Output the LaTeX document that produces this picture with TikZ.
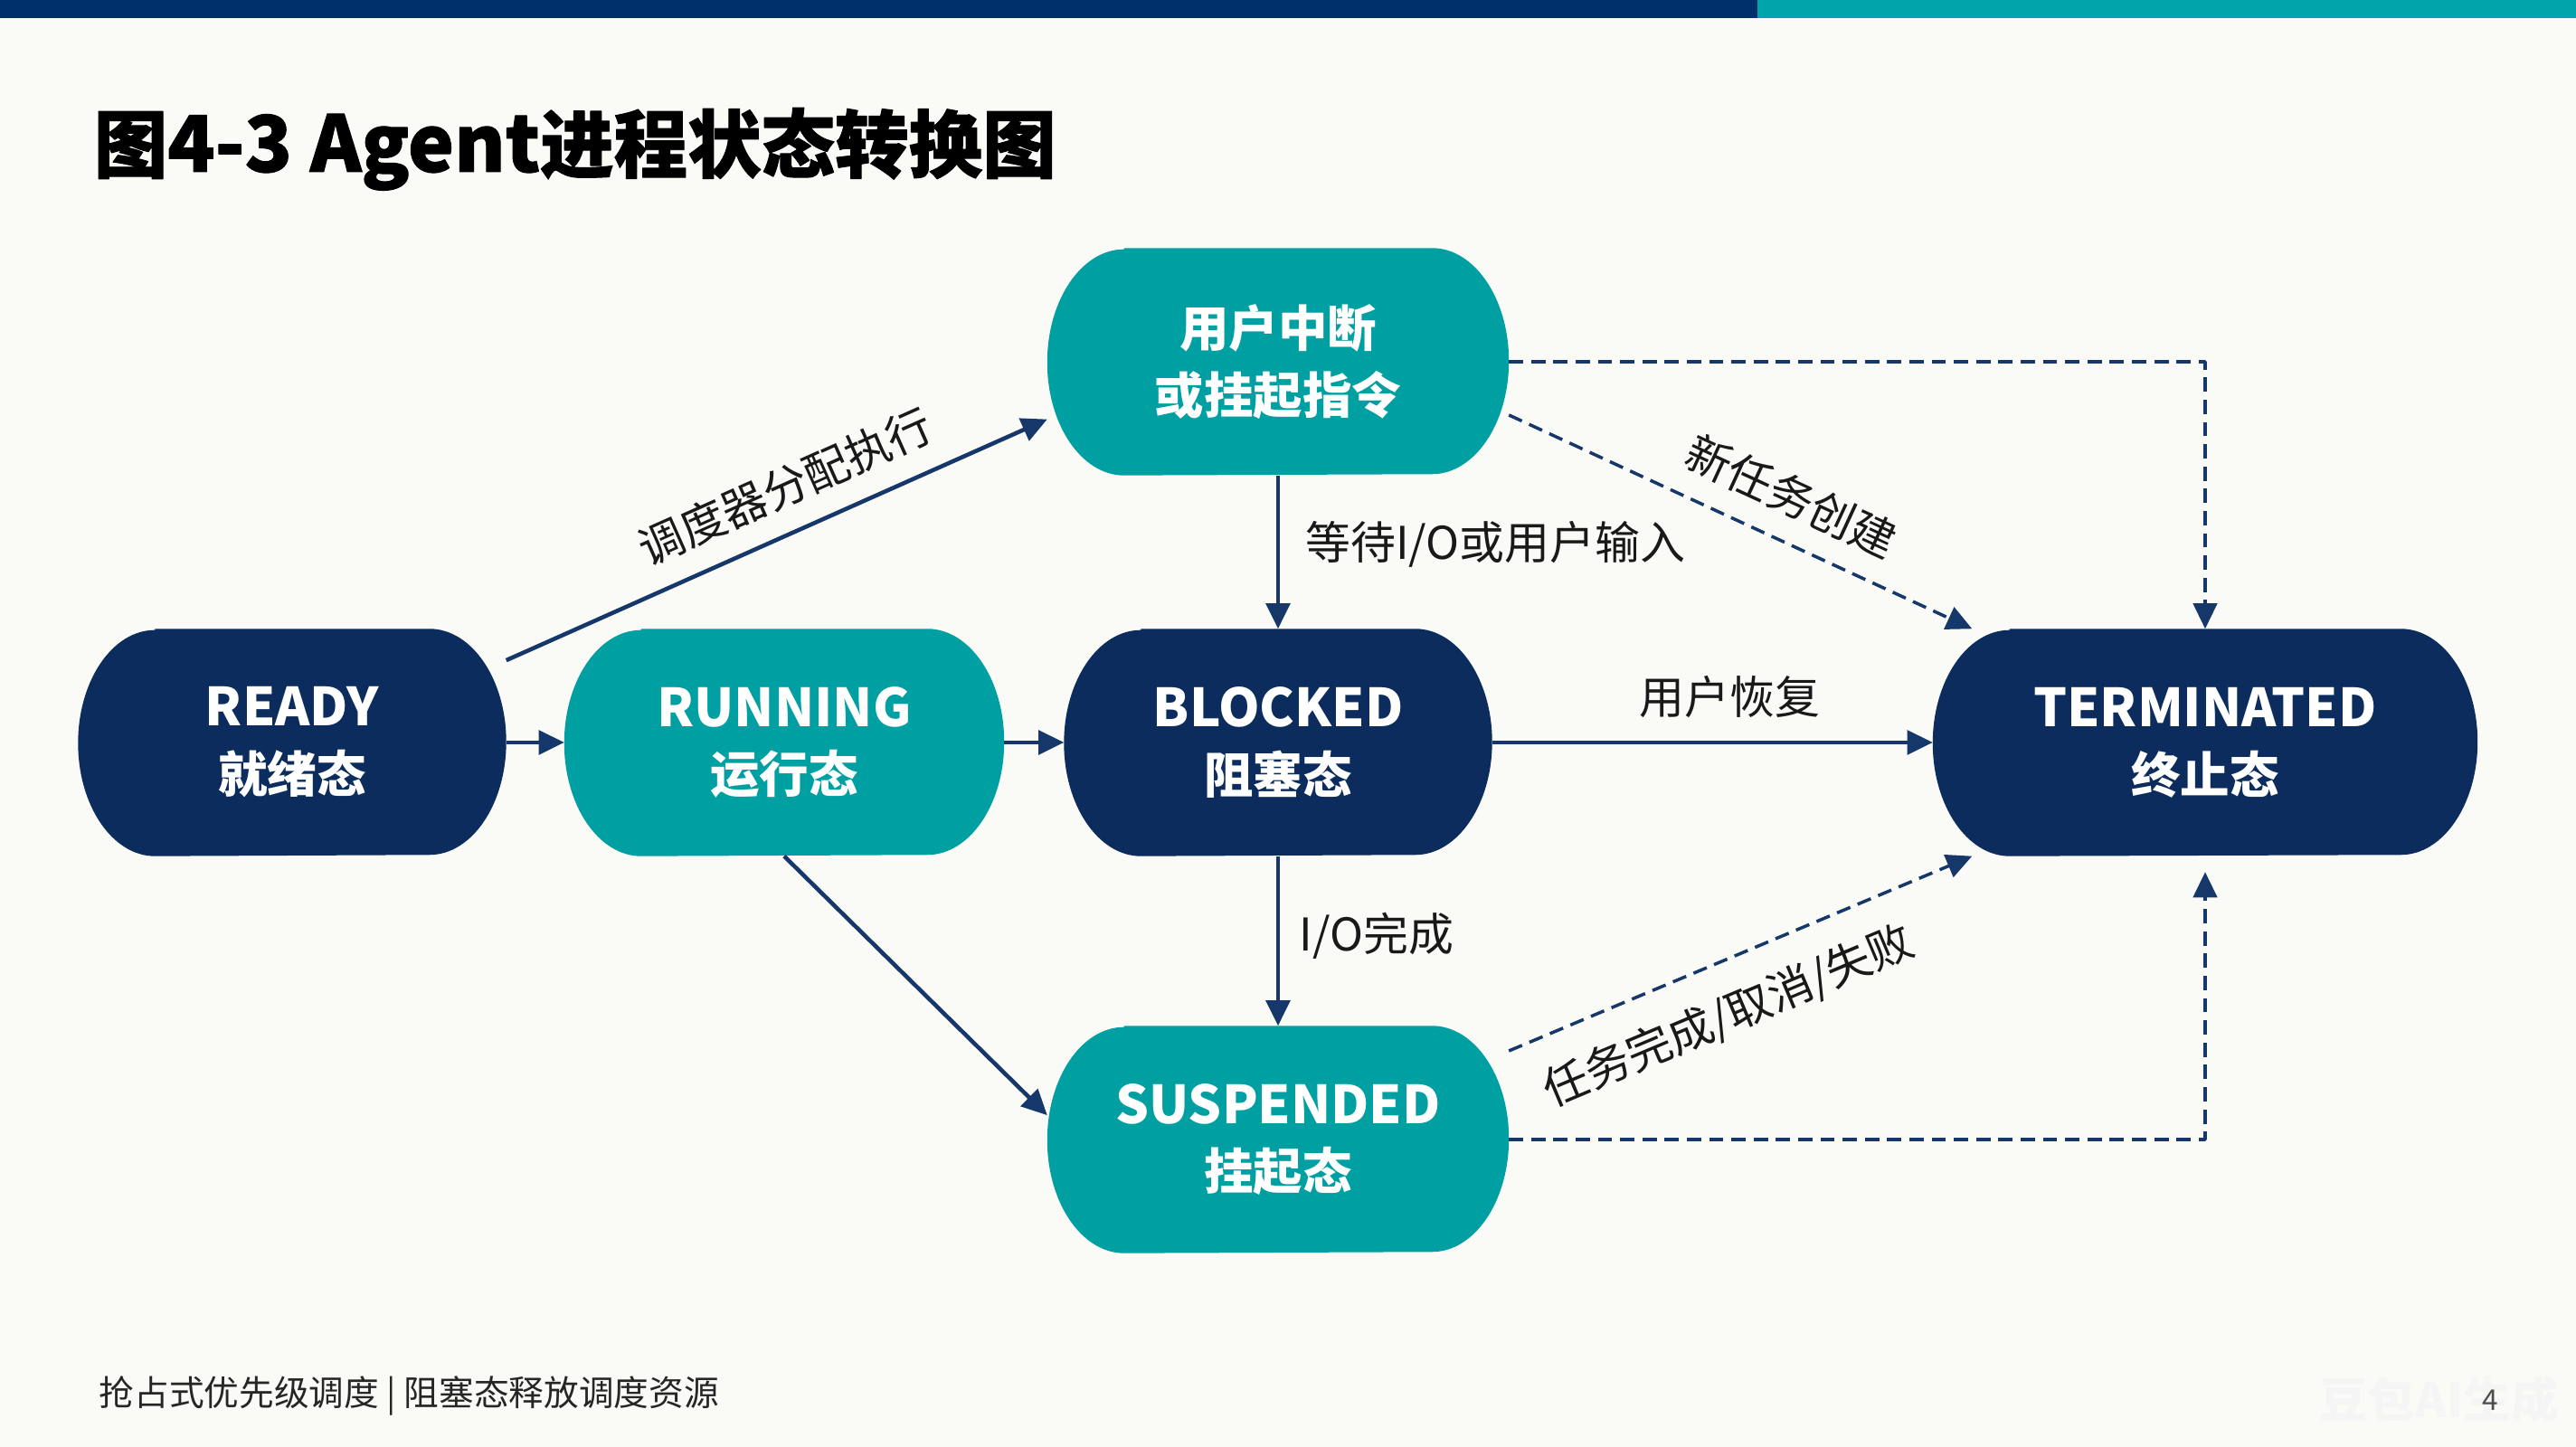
\documentclass[tikz,border=0pt]{standalone}
\usepackage{fontspec}
\setmainfont{Noto Sans CJK SC}
\newfontfamily\heavyfont{Noto Sans CJK SC}[FakeBold=1.2]
\usetikzlibrary{arrows.meta,backgrounds}
\definecolor{pagebg}{HTML}{FAFAF7}
\definecolor{navyfill}{HTML}{0B2C5D}
\definecolor{tealfill}{HTML}{00A0A2}
\definecolor{linenavy}{HTML}{15376A}
\definecolor{barnavy}{HTML}{00306A}
\definecolor{barteal}{HTML}{00A5AB}
\tikzset{
  statenode/.style={rectangle,minimum height=2.5cm,inner sep=0pt,align=center,
    text=white,font=\bfseries\fontsize{15.5}{21}\selectfont},
  edgelabel/.style={font=\fontsize{14.2}{17}\selectfont,text=black!90,inner sep=2pt},
  flow/.style={->,draw=linenavy,line width=1.3pt},
  dashflow/.style={->,draw=linenavy,line width=1pt,dash pattern=on 4.5pt off 2.5pt},
  every picture/.style={line join=round}
}
\newcommand\latinpart[1]{{\fontsize{16.5}{21}\selectfont #1}}

\begin{document}
\begin{tikzpicture}[>={Triangle[length=8pt,width=7.5pt]}]
  \useasboundingbox (0,0) rectangle (28.48,16);
  \node[anchor=base west,inner sep=0pt,font=\heavyfont\bfseries\fontsize{23.2}{28}\selectfont] (title)
    at (1.03,14.10) {图{\fontsize{24.5}{28}\selectfont 4-3 Agent}进程状态转换图};

  \node[statenode,minimum width=4.72cm] (ready) at (3.23,7.79) {\latinpart{READY}\\就绪态};
  \node[statenode,minimum width=4.85cm] (running) at (8.67,7.79) {\latinpart{RUNNING}\\运行态};
  \node[statenode,minimum width=4.72cm] (blocked) at (14.13,7.79) {\latinpart{BLOCKED}\\阻塞态};
  \node[statenode,minimum width=6.01cm] (terminated) at (24.38,7.79) {\latinpart{TERMINATED}\\终止态};
  \node[statenode,minimum width=5.09cm] (interrupt) at (14.13,12) {用户中断\\或挂起指令};
  \node[statenode,minimum width=5.09cm] (suspended) at (14.13,3.40) {\latinpart{SUSPENDED}\\挂起态};

  \begin{scope}[on background layer]
    \fill[pagebg] (0,0) rectangle (28.48,16);
    \fill[barnavy] (0,15.8) rectangle (19.43,16);
    \fill[barteal] (19.43,15.8) rectangle (28.48,16);
    % pill shapes behind the state texts
    \foreach \n/\c in {ready/navyfill,running/tealfill,blocked/navyfill,
        terminated/navyfill,interrupt/tealfill,suspended/tealfill}
      \fill[\c] ([xshift=0.85cm]\n.north west) -- ([xshift=-0.85cm]\n.north east)
        arc[start angle=90,end angle=-90,x radius=0.85cm,y radius=1.25cm]
        -- ([xshift=0.85cm]\n.south west)
        arc[start angle=270,end angle=90,x radius=0.85cm,y radius=1.25cm] -- cycle;
  \end{scope}

  \draw[flow] (ready) -- (running);
  \draw[flow] (running) -- (blocked);
  \draw[flow] (ready.21) -- node[edgelabel,sloped,above=5pt,pos=0.55] {调度器分配执行} (interrupt.194);
  \draw[flow] (running.south) -- (suspended.174);
  \draw[flow] (interrupt) -- node[edgelabel,right=6pt,pos=0.45] {等待I/O或用户输入} (blocked);
  \draw[flow] (blocked) -- node[edgelabel,above=5pt,pos=0.54] {用户恢复} (terminated);
  \draw[flow] (blocked) -- node[edgelabel,right=4pt,pos=0.47] {I/O完成} (suspended);
  \draw[dashflow] (interrupt.east) -| (terminated.north);
  \draw[dashflow] (interrupt.-13) -- node[edgelabel,sloped,above=5pt,pos=0.57] {新任务创建} (terminated.154);
  \draw[dashflow] (suspended.21) -- node[edgelabel,sloped,below=7pt,pos=0.43] {任务完成/取消/失败} (terminated.206);
  \draw[dashflow,shorten >=5pt] (suspended.east) -| (terminated.south);

  \node[anchor=west,inner sep=0pt,font=\fontsize{11}{14}\selectfont,text=black!85] (footer)
    at (1.09,0.56) {抢占式优先级调度 | 阻塞态释放调度资源};
  \node[font=\bfseries\fontsize{15}{16}\selectfont,text=black!4] (mark) at (26.97,0.53) {豆包AI生成};
  \node[font=\fontsize{9}{10}\selectfont,text=black!70] (pageno) at (27.53,0.52) {4};
\end{tikzpicture}
\end{document}
